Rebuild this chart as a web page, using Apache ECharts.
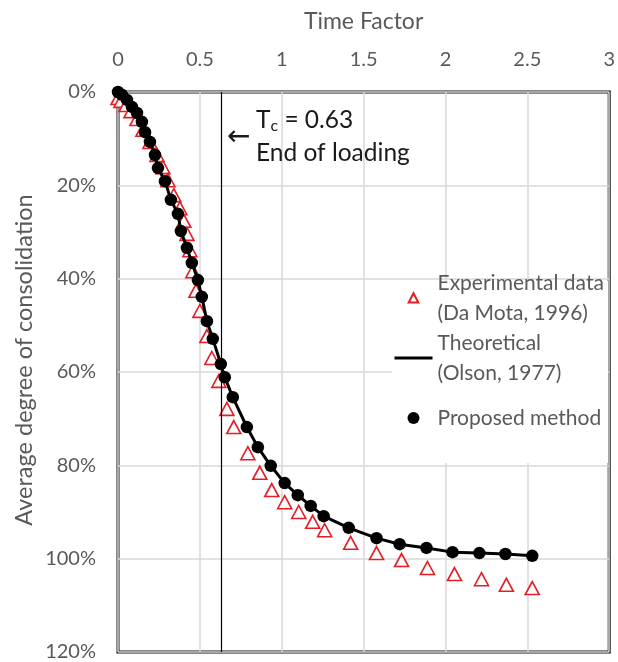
<!DOCTYPE html>
<html><head><meta charset="utf-8">
<script src="https://cdn.jsdelivr.net/npm/echarts@6/dist/echarts.min.js"></script>
<style>html,body{margin:0;padding:0;background:#fff}#c{width:618px;height:662px}</style>
</head><body><div id="c"></div>
<script>
// Tick labels
const xTickLabels = ['0', '0.5', '1', '1.5', '2', '2.5', '3'];
const yTickLabels = ['0%', '20%', '40%', '60%', '80%', '100%', '120%'];

// Experimental data (Da Mota, 1996): time factor, average degree of consolidation
const expT = [0, 0.018, 0.049, 0.079, 0.116, 0.152, 0.195, 0.238, 0.274, 0.305, 0.341, 0.378, 0.402, 0.421, 0.439, 0.457, 0.476, 0.500, 0.543, 0.573, 0.616, 0.665, 0.707, 0.793, 0.866, 0.939, 1.018, 1.104, 1.189, 1.262, 1.421, 1.579, 1.732, 1.890, 2.055, 2.220, 2.372, 2.530];
const expU = [0.013, 0.019, 0.028, 0.041, 0.058, 0.081, 0.107, 0.135, 0.161, 0.189, 0.221, 0.249, 0.276, 0.304, 0.339, 0.384, 0.426, 0.469, 0.523, 0.570, 0.619, 0.679, 0.718, 0.774, 0.816, 0.853, 0.879, 0.900, 0.921, 0.939, 0.966, 0.988, 1.003, 1.020, 1.033, 1.044, 1.056, 1.063];

// Theoretical (Olson, 1977)
const theoT = [0, 0.024, 0.055, 0.085, 0.116, 0.146, 0.165, 0.195, 0.226, 0.244, 0.287, 0.323, 0.366, 0.384, 0.421, 0.451, 0.488, 0.512, 0.543, 0.579, 0.628, 0.652, 0.701, 0.787, 0.854, 0.933, 1.018, 1.098, 1.177, 1.256, 1.409, 1.579, 1.720, 1.884, 2.043, 2.207, 2.366, 2.530];
const theoU = [0, 0.006, 0.017, 0.032, 0.045, 0.064, 0.086, 0.107, 0.135, 0.163, 0.191, 0.231, 0.261, 0.298, 0.334, 0.366, 0.403, 0.439, 0.491, 0.529, 0.583, 0.611, 0.654, 0.718, 0.761, 0.801, 0.838, 0.864, 0.887, 0.909, 0.934, 0.956, 0.969, 0.977, 0.986, 0.988, 0.990, 0.994];

// Proposed method
const propT = [0, 0.024, 0.055, 0.085, 0.116, 0.146, 0.165, 0.195, 0.226, 0.244, 0.287, 0.323, 0.366, 0.384, 0.421, 0.451, 0.488, 0.512, 0.543, 0.579, 0.628, 0.652, 0.701, 0.787, 0.854, 0.933, 1.018, 1.098, 1.177, 1.256, 1.409, 1.579, 1.720, 1.884, 2.043, 2.207, 2.366, 2.530];
const propU = [0, 0.006, 0.017, 0.032, 0.045, 0.064, 0.086, 0.107, 0.135, 0.163, 0.191, 0.231, 0.261, 0.298, 0.334, 0.366, 0.403, 0.439, 0.491, 0.529, 0.583, 0.611, 0.654, 0.718, 0.761, 0.801, 0.838, 0.864, 0.887, 0.909, 0.934, 0.956, 0.969, 0.977, 0.986, 0.988, 0.990, 0.994];

// End of loading
const Tc = 0.63;

const FONT = 'Lato';
const GRAY = '#595959';
const zip = (a, b) => a.map((v, i) => [v, b[i]]);

const chart = echarts.init(document.getElementById('c'), null, {renderer: 'canvas'});
chart.setOption({
  animation: false,
  backgroundColor: '#fff',
  grid: {left: 118, top: 92, width: 492, height: 560, show: true, borderColor: '#111', borderWidth: 3, backgroundColor: 'transparent'},
  xAxis: {
    type: 'value', position: 'top', min: 0, max: 3, interval: 0.5,
    name: 'Time Factor', nameLocation: 'middle', nameGap: 59,
    nameTextStyle: {fontFamily: FONT, fontSize: 23, color: GRAY},
    axisLine: {show: false}, axisTick: {show: false},
    axisLabel: {margin: 22, fontFamily: FONT, fontSize: 20, color: GRAY,
      formatter: (v) => xTickLabels[Math.round(v / 0.5)]},
    splitLine: {show: true, lineStyle: {color: '#d9d9d9', width: 1.5}}
  },
  yAxis: {
    type: 'value', inverse: true, min: 0, max: 1.2, interval: 0.2,
    axisLine: {show: false}, axisTick: {show: false},
    axisLabel: {margin: 22, fontFamily: FONT, fontSize: 20, color: GRAY,
      formatter: (v) => yTickLabels[Math.round(v / 0.2)]},
    splitLine: {show: true, lineStyle: {color: '#d9d9d9', width: 1.5}}
  },
  legend: {
    orient: 'vertical', left: 393, top: 253, padding: 0,
    itemWidth: 38, itemHeight: 12, itemGap: -30, symbolKeepAspect: true,
    textStyle: {fontFamily: FONT, fontSize: 21, color: GRAY, lineHeight: 30},
    data: [
      {name: 'Experimental data\n(Da Mota, 1996)', icon: 'path://M0,0M12,12M1.2,10.5L6,1.2L10.8,10.5Z', textStyle: {padding: [30, 0, 0, 0]}},
      {name: 'Theoretical\n(Olson, 1977)', itemStyle: {color: 'rgba(0,0,0,0)', borderColor: 'rgba(0,0,0,0)', borderWidth: 0},
        lineStyle: {color: '#000', width: 3}, textStyle: {padding: [30, 0, 0, 0]}},
      {name: 'Proposed method', icon: 'circle', textStyle: {padding: [30, 0, 30, 0]}}
    ]
  },
  graphic: [
    {type: 'rect', z: 1, shape: {x: 392, y: 281, width: 216, height: 182}, style: {fill: '#fff'}},
    {type: 'text', z: 5, x: 24, y: 360, rotation: Math.PI / 2,
      style: {text: 'Average degree of consolidation', fontFamily: FONT, fontSize: 23.5, fill: GRAY, align: 'center', verticalAlign: 'middle'}},
    {type: 'text', z: 5, x: 256, y: 120,
      style: {text: '{t|T}{s|c}{t| = 0.63}', verticalAlign: 'middle', align: 'left',
        rich: {t: {fontFamily: FONT, fontSize: 24.5, fill: '#1a1a1a'}, s: {fontFamily: FONT, fontSize: 16, fill: '#1a1a1a', padding: [12, 0, 0, 0]}}}},
    {type: 'text', z: 5, x: 256, y: 153,
      style: {text: 'End of loading', fontFamily: FONT, fontSize: 24.5, fill: '#1a1a1a', verticalAlign: 'middle', align: 'left'}},
    {type: 'text', z: 5, x: 227, y: 138,
      style: {text: '\u2190', fontFamily: 'DejaVu Sans', fontSize: 28, fill: '#1a1a1a', verticalAlign: 'middle', align: 'left'}}
  ],
  series: [
    {
      name: 'Experimental data\n(Da Mota, 1996)', type: 'scatter', z: 2,
      data: zip(expT, expU), symbol: 'triangle', symbolSize: [14, 13],
      itemStyle: {color: '#fff', borderColor: '#e41e26', borderWidth: 1.6, opacity: 1}
    },
    {
      name: 'Theoretical\n(Olson, 1977)', type: 'line', z: 3,
      data: zip(theoT, theoU), symbol: 'none', showSymbol: false,
      lineStyle: {color: '#000', width: 3}, itemStyle: {color: '#000'},
      markLine: {silent: true, symbol: ['none', 'none'], label: {show: false},
        lineStyle: {color: '#000', width: 1.2, type: 'solid'}, data: [{xAxis: Tc}]}
    },
    {
      name: 'Proposed method', type: 'scatter', z: 4,
      data: zip(propT, propU), symbol: 'circle', symbolSize: 12.5,
      itemStyle: {color: '#000', opacity: 1}
    }
  ]
});
</script></body></html>
